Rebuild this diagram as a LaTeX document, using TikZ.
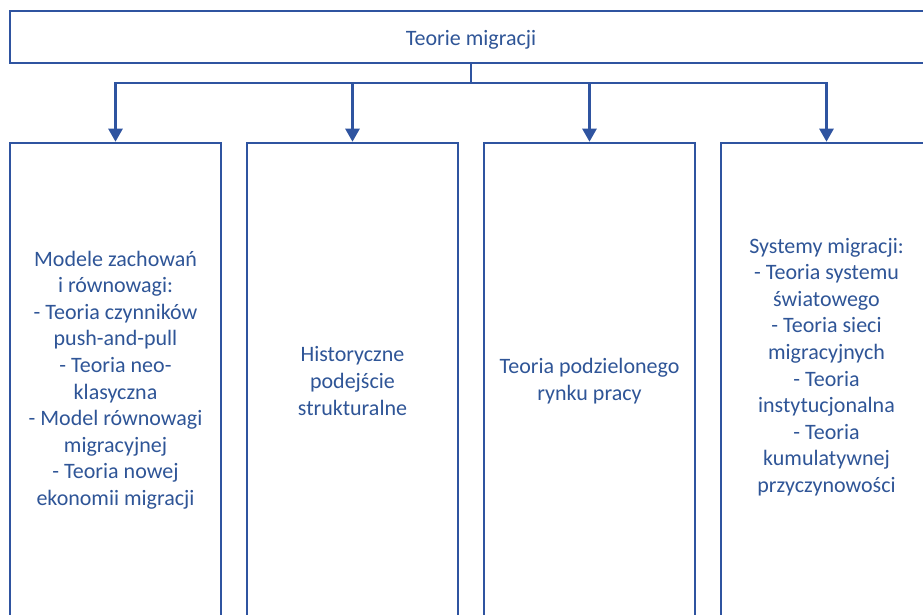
\documentclass[tikz,border=0pt]{standalone}
\usepackage{fontspec}
\setmainfont{Carlito}
\usetikzlibrary{arrows.meta}
\definecolor{lineblue}{RGB}{47,84,160}
\definecolor{textblue}{RGB}{47,85,151}

\begin{document}
\begin{tikzpicture}[x=1pt,y=-1pt,
  frame/.style={draw=lineblue, line width=2.6pt, fill=white, inner sep=0pt},
  topbox/.style={frame, minimum width=922pt, minimum height=52pt},
  colbox/.style={frame, minimum width=211pt, minimum height=474pt},
  label/.style={text=textblue, align=center, inner sep=0pt,
    font=\fontsize{22}{26.6}\selectfont},
  link/.style={draw=lineblue, line width=2.6pt, line join=miter},
  arrow/.style={link, -{Triangle[width=14pt,length=13pt]}}]
\useasboundingbox (0,0) rectangle (923,614);
\fill[white] (0,0) rectangle (923,614);
\clip (0,0) rectangle (923,614);

% top level box
\node[topbox] (top) at (471,37) {};
\node[label] (toptxt) at (471,40) {Teorie migracji};

% four column boxes
\node[colbox] (b1) at (115.5,380) {};
\node[colbox] (b2) at (352.5,380) {};
\node[colbox] (b3) at (589.5,380) {};
\node[colbox] (b4) at (826.5,380) {};

\node[label] (t1) at (115.5,380) {Modele zachowań\\i równowagi:\\- Teoria czynników\\push-and-pull\\- Teoria neo-\\klasyczna\\- Model równowagi\\migracyjnej\\- Teoria nowej\\ekonomii migracji};
\node[label] (t2) at (352.5,381) {Historyczne\\podejście\\strukturalne};
\node[label] (t3) at (589.5,381) {Teoria podzielonego\\rynku pracy};
\node[label] (t4) at (826.5,367) {Systemy migracji:\\- Teoria systemu\\światowego\\- Teoria sieci\\migracyjnych\\- Teoria\\instytucjonalna\\- Teoria\\kumulatywnej\\przyczynowości};

% connectors
\coordinate (j) at (471,83);
\draw[link] (top.south) -- (j);
\draw[arrow] (j) -| (b1.north);
\draw[arrow] (j) -| (b2.north);
\draw[arrow] (j) -| (b3.north);
\draw[arrow] (j) -| (b4.north);
\end{tikzpicture}
\end{document}
